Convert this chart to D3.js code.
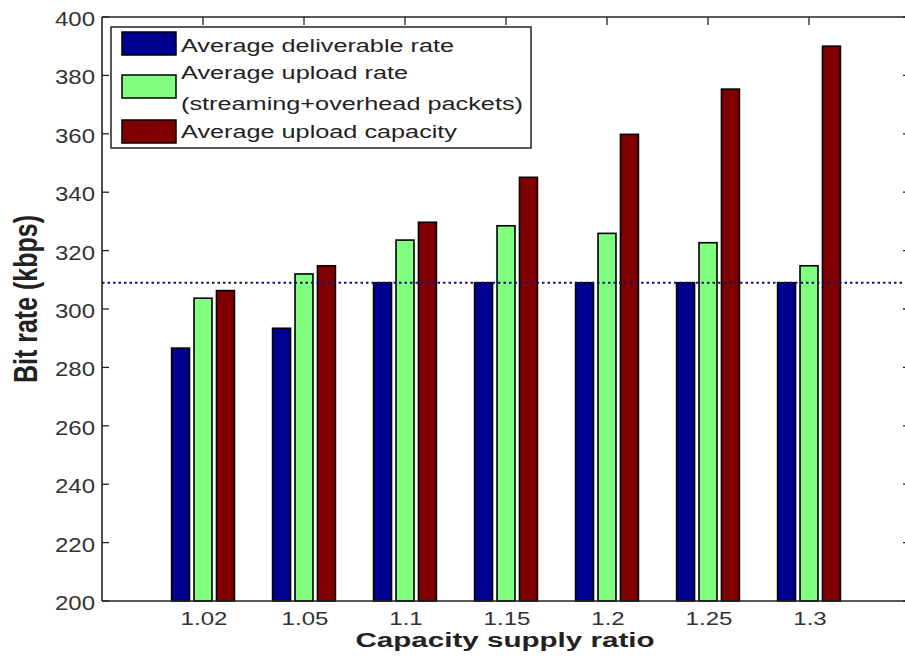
<!DOCTYPE html>
<html>
<head>
<meta charset="utf-8">
<script src="https://cdn.jsdelivr.net/npm/d3@7"></script>
<style>
  body { margin: 0; background: #fff; }
  text { font-family: "Liberation Sans", Arial, sans-serif; }
</style>
</head>
<body>
<svg id="chart" width="905" height="663"></svg>
<script>
// Capacity supply ratios on the x axis
const categories = ["1.02", "1.05", "1.1", "1.15", "1.2", "1.25", "1.3"];
// Bit rates in kbps
const deliverableRate = [286.6, 293.4, 309, 309, 309, 309, 309];
const uploadRate = [303.7, 312, 323.6, 328.5, 325.9, 322.7, 314.8];
const uploadCapacity = [306.3, 314.8, 329.7, 345.1, 359.8, 375.3, 390];
// Streaming rate reference line
const streamingRate = 309;
const yTicks = [200, 220, 240, 260, 280, 300, 320, 340, 360, 380, 400];
const legendLines = [
  ["Average deliverable rate"],
  ["Average upload rate", "(streaming+overhead packets)"],
  ["Average upload capacity"]
];
const seriesColors = ["#000090", "#80ff80", "#800000"];

const series = [deliverableRate, uploadRate, uploadCapacity];

const svg = d3.select("#chart");
const ink = "#222";

// Category positions 1..n on a [0, n+1] axis
const x = d3.scaleLinear().domain([0, categories.length + 1]).range([102, 910]);
const y = d3.scaleLinear().domain([200, 400]).range([601, 17]);
const unit = x(1) - x(0);
const inner = d3.scaleBand().domain(d3.range(series.length))
  .range([-1 / 3, 1 / 3]).paddingInner(0.2).paddingOuter(0.1);

// Tick marks (drawn under the bars)
const ticks = svg.append("g").attr("stroke", ink).attr("stroke-width", 1.3);
yTicks.forEach(v => {
  ticks.append("line").attr("x1", x(0)).attr("x2", x(0) + 7).attr("y1", y(v)).attr("y2", y(v));
  ticks.append("line").attr("x1", x(8)).attr("x2", x(8) - 7).attr("y1", y(v)).attr("y2", y(v));
});
categories.forEach((c, i) => {
  ticks.append("line").attr("x1", x(i + 1)).attr("x2", x(i + 1)).attr("y1", y(400)).attr("y2", y(400) + 8);
  ticks.append("line").attr("x1", x(i + 1)).attr("x2", x(i + 1)).attr("y1", y(200)).attr("y2", y(200) - 8);
});

// Bars
series.forEach((vals, s) => {
  svg.append("g").selectAll("rect").data(vals).join("rect")
    .attr("x", (d, i) => x(i + 1) + (inner(s)) * unit)
    .attr("width", inner.bandwidth() * unit)
    .attr("y", d => y(d))
    .attr("height", d => y(200) - y(d))
    .attr("fill", seriesColors[s])
    .attr("stroke", "#000")
    .attr("stroke-width", 1.6);
});

// Axes box
const box = svg.append("g").attr("stroke", ink).attr("stroke-width", 1.6).attr("fill", "none");
box.append("line").attr("x1", x(0)).attr("x2", x(8)).attr("y1", y(400)).attr("y2", y(400));
box.append("line").attr("x1", x(0)).attr("x2", x(8)).attr("y1", y(200)).attr("y2", y(200));
box.append("line").attr("x1", x(0)).attr("x2", x(0)).attr("y1", y(400)).attr("y2", y(200));
box.append("line").attr("x1", x(8)).attr("x2", x(8)).attr("y1", y(400)).attr("y2", y(200));

// Streaming rate line
svg.append("line")
  .attr("x1", x(0)).attr("x2", x(8))
  .attr("y1", y(streamingRate)).attr("y2", y(streamingRate))
  .attr("stroke", "#10107a").attr("stroke-width", 2)
  .attr("stroke-dasharray", "2.5,3");

// Y tick labels
svg.append("g").selectAll("text").data(yTicks).join("text")
  .attr("transform", d => `translate(95,${y(d) + 9}) scale(1.2,1)`)
  .attr("text-anchor", "end")
  .attr("font-size", 20)
  .attr("fill", "#333")
  .text(d => d);

// X tick labels
svg.append("g").selectAll("text").data(categories).join("text")
  .attr("transform", (d, i) => `translate(${x(i + 1) + 1},625) scale(1.3,1)`)
  .attr("text-anchor", "middle")
  .attr("font-size", 18.5)
  .attr("fill", "#333")
  .text(d => d);

// Axis titles
svg.append("text")
  .attr("transform", "translate(505,647) scale(1.6,1.12)")
  .attr("text-anchor", "middle")
  .attr("font-size", 18.5)
  .attr("font-weight", "bold")
  .attr("fill", ink)
  .text("Capacity supply ratio");

svg.append("text")
  .attr("transform", "translate(37,299) rotate(-90) scale(1,1.3)")
  .attr("text-anchor", "middle")
  .attr("font-size", 25)
  .attr("font-weight", "bold")
  .attr("fill", ink)
  .text("Bit rate (kbps)");

// Legend
const legend = svg.append("g");
legend.append("rect")
  .attr("x", 111).attr("y", 27).attr("width", 420).attr("height", 121)
  .attr("fill", "#fff").attr("stroke", ink).attr("stroke-width", 1.5);
const swatchY = [32, 75, 120];
const textBaselines = [[52], [79, 110], [138]];
const textWidths = [[273], [227, 342], [276]];
legendLines.forEach((lines, s) => {
  legend.append("rect")
    .attr("x", 122).attr("y", swatchY[s]).attr("width", 54).attr("height", 23)
    .attr("fill", seriesColors[s]).attr("stroke", "#000").attr("stroke-width", 1.5);
  lines.forEach((t, k) => {
    legend.append("text")
      .attr("x", 181).attr("y", textBaselines[s][k])
      .attr("font-size", 17.5)
      .attr("fill", ink)
      .attr("textLength", textWidths[s][k])
      .attr("lengthAdjust", "spacingAndGlyphs")
      .text(t);
  });
});
</script>
</body>
</html>
